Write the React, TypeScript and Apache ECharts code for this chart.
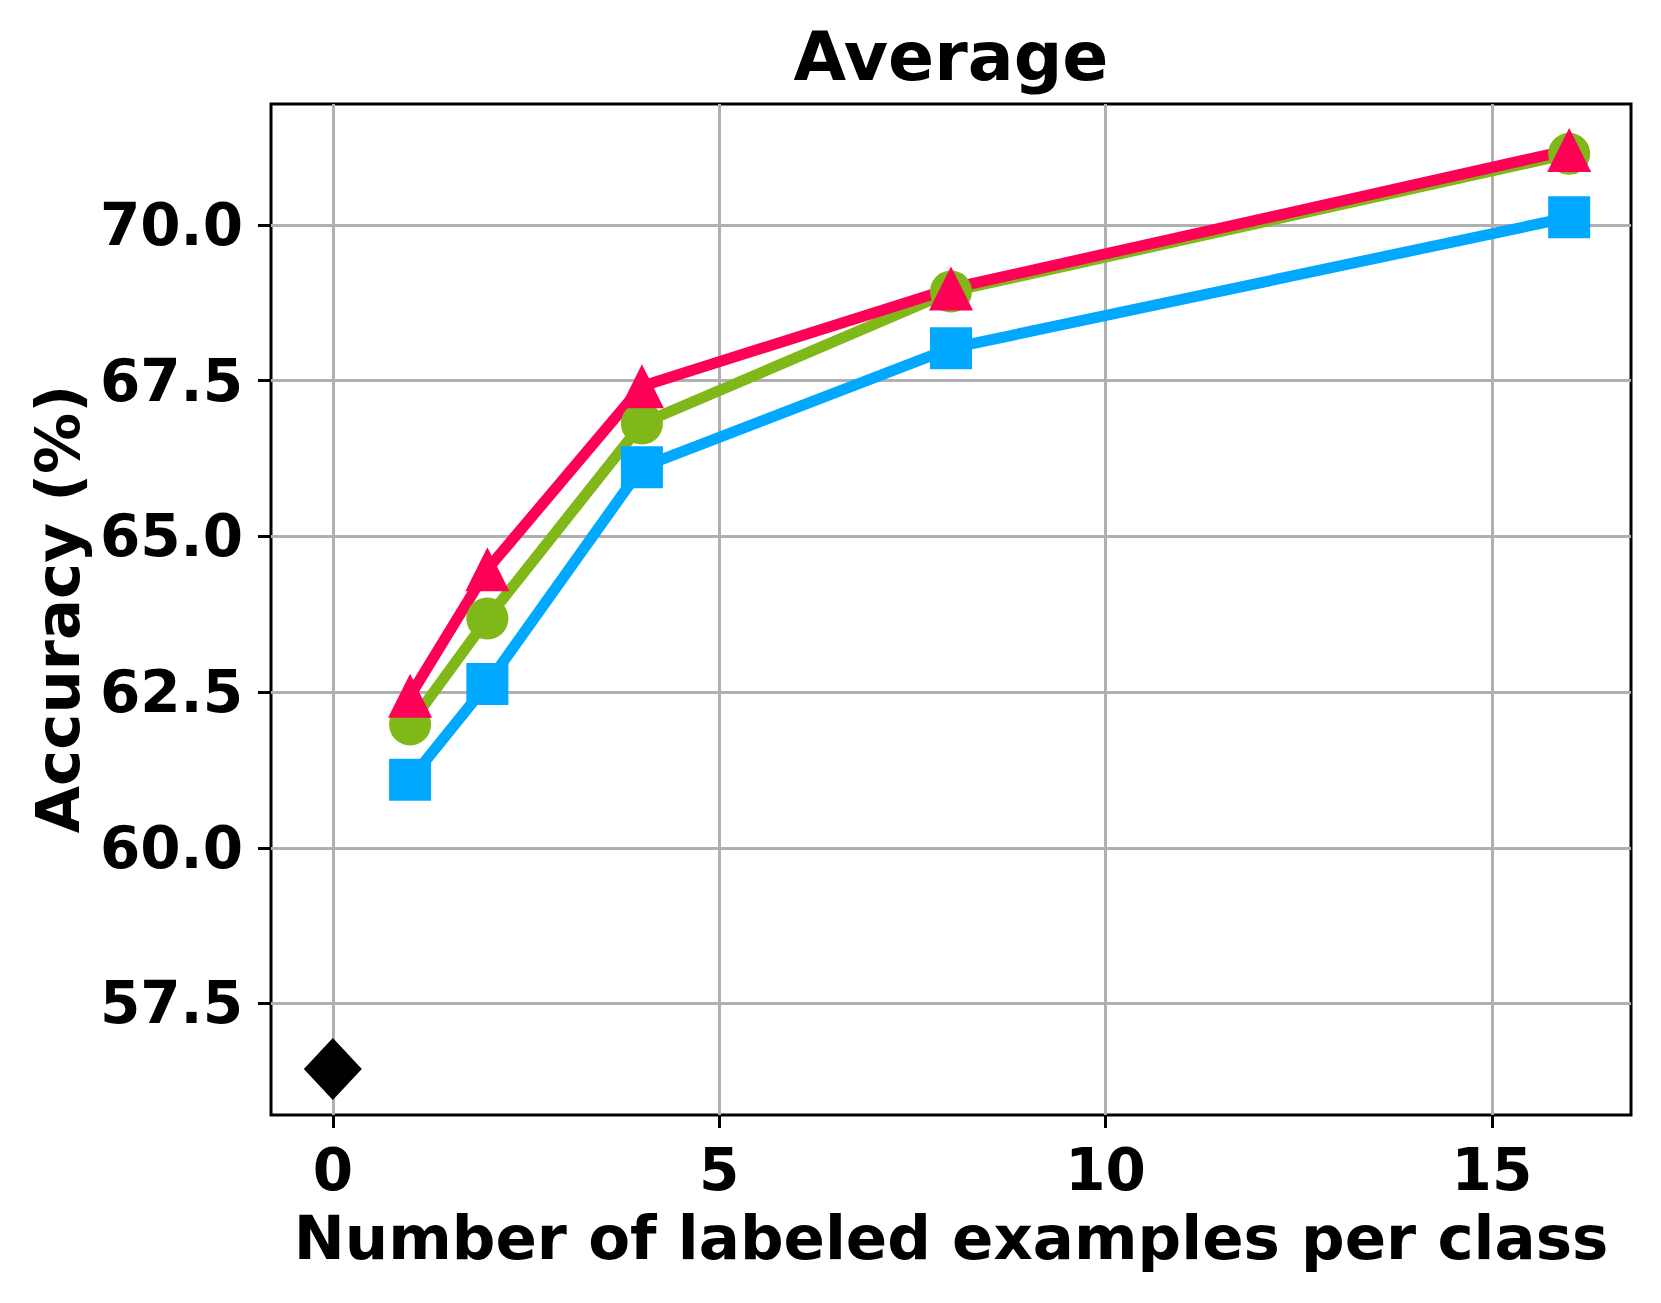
import React, { useEffect, useRef } from 'react';
import * as echarts from 'echarts';

const shots = [1, 2, 4, 8, 16];
const blueValues = [61.09, 62.63, 66.11, 68.02, 70.12];
const greenValues = [61.98, 63.68, 66.81, 68.93, 71.14];
const redValues = [62.44, 64.47, 67.41, 68.98, 71.2];
const zeroShotX = [0];
const zeroShotValues = [56.45];
const xTicks = [0, 5, 10, 15];
const yTicks = [57.5, 60, 62.5, 65, 67.5, 70];

const titleText = 'Average';
const xName = 'Number of labeled examples per class';
const yName = 'Accuracy (%)';

const FONT = "'DejaVu Sans', sans-serif";

export default function App() {
  const ref = useRef<HTMLDivElement | null>(null);

  useEffect(() => {
    if (!ref.current) return;
    const chart = echarts.init(ref.current, null, { renderer: 'svg' });
    const pair = (vals: number[]) => shots.map((x, i) => [x, vals[i]]);
    const lineSeries = (name: string, vals: number[], color: string, symbol: string, size: number) => ({
      name,
      type: 'line',
      data: pair(vals),
      symbol,
      symbolSize: size,
      showSymbol: true,
      lineStyle: { color, width: 11, join: 'round', cap: 'round' },
      itemStyle: { color, borderWidth: 0, opacity: 1 },
      emphasis: { disabled: true },
      silent: true,
    });
    chart.setOption({
      animation: false,
      grid: {
        left: 271,
        top: 104,
        right: 30,
        bottom: 188,
        show: true,
        borderColor: '#000',
        borderWidth: 3,
        backgroundColor: 'transparent',
        containLabel: false,
        outerBoundsMode: 'none',
      },
      xAxis: {
        type: 'value',
        min: -0.8,
        max: 16.8,
        axisLine: { show: false, onZero: false },
        axisTick: { show: true, customValues: xTicks, length: 13, inside: false, lineStyle: { color: '#000', width: 3 } },
        axisLabel: {
          customValues: xTicks,
          margin: 26,
          color: '#000',
          fontFamily: FONT,
          fontWeight: 'bold',
          fontSize: 58,
          formatter: (v: number) => String(Math.round(v)),
        },
        splitLine: { show: true, lineStyle: { color: '#b0b0b0', width: 3 } },
      },
      yAxis: {
        type: 'value',
        min: 55.71,
        max: 71.94,
        axisLine: { show: false, onZero: false },
        axisTick: { show: true, customValues: yTicks, length: 13, inside: false, lineStyle: { color: '#000', width: 3 } },
        axisLabel: {
          customValues: yTicks,
          margin: 28,
          color: '#000',
          fontFamily: FONT,
          fontWeight: 'bold',
          fontSize: 58,
          formatter: (v: number) => v.toFixed(1),
        },
        splitLine: { show: true, lineStyle: { color: '#b0b0b0', width: 3 } },
      },
      series: [
        lineSeries('blue', blueValues, '#01A8FF', 'rect', 42),
        lineSeries('green', greenValues, '#80B81A', 'circle', 42),
        lineSeries('red', redValues, '#FF0057', 'triangle', 44),
        {
          name: 'zero-shot',
          type: 'scatter',
          data: zeroShotX.map((x, i) => [x, zeroShotValues[i]]),
          symbol: 'diamond',
          symbolSize: [58, 62],
          itemStyle: { color: '#000', opacity: 1 },
          emphasis: { disabled: true },
          silent: true,
        },
      ],
      graphic: [
        {
          type: 'text',
          x: 951,
          y: 56,
          style: {
            text: titleText,
            font: `bold 68px ${FONT}`,
            fill: '#000',
            textAlign: 'center',
            textVerticalAlign: 'middle',
          },
        },
        {
          type: 'text',
          x: 951,
          y: 1237,
          style: {
            text: xName,
            font: `bold 61px ${FONT}`,
            fill: '#000',
            textAlign: 'center',
            textVerticalAlign: 'middle',
          },
        },
        {
          type: 'text',
          x: 57,
          y: 609,
          rotation: Math.PI / 2,
          style: {
            text: yName,
            font: `bold 61px ${FONT}`,
            fill: '#000',
            textAlign: 'center',
            textVerticalAlign: 'middle',
          },
        },
      ],
    });
    return () => chart.dispose();
  }, []);

  return (
    <div
      ref={ref}
      style={{ position: 'absolute', left: 0, top: 0, width: 1661, height: 1303, background: '#fff' }}
    />
  );
}
